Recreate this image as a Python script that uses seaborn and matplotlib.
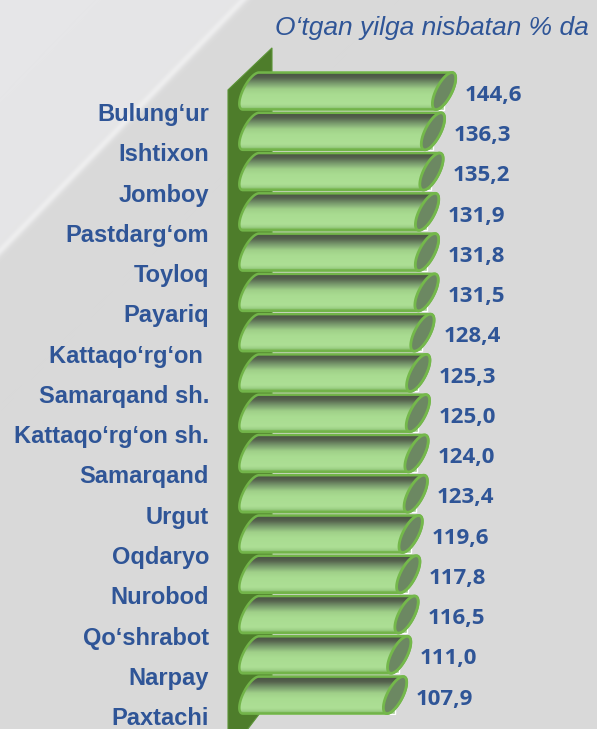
import numpy as np
import pandas as pd
import matplotlib
matplotlib.use("Agg")
import matplotlib.pyplot as plt
import seaborn as sns
from matplotlib.patches import Polygon
from matplotlib.colors import LinearSegmentedColormap, to_rgb
from matplotlib.transforms import ScaledTranslation

# ---- data -------------------------------------------------------------
districts = [
    "Bulung‘ur", "Ishtixon", "Jomboy", "Pastdarg‘om", "Toyloq", "Payariq",
    "Kattaqo‘rg‘on ", "Samarqand sh.", "Kattaqo‘rg‘on sh.", "Samarqand",
    "Urgut", "Oqdaryo", "Nurobod", "Qo‘shrabot", "Narpay", "Paxtachi",
]
growth = [144.6, 136.3, 135.2, 131.9, 131.8, 131.5, 128.4, 125.3,
          125.0, 124.0, 123.4, 119.6, 117.8, 116.5, 111.0, 107.9]
title_text = "O‘tgan yilga nisbatan % da"

# ---- style ------------------------------------------------------------
W, H, DPI = 597, 729, 100
BLUE = "#2f5597"
sns.set_theme(style="white")
plt.rcParams["font.family"] = ["Liberation Sans", "DejaVu Sans"]

fig = plt.figure(figsize=(W / DPI, H / DPI), dpi=DPI)

# ---- background: grey with a lighter upper-left corner ----------------
bg = fig.add_axes([0, 0, 1, 1], zorder=0)
bg.set_axis_off()
yy, xx = np.mgrid[0:H, 0:W]
dist = (xx * 250 + yy * 242 - 242 * 250) / np.hypot(250, 242)
base = np.array(to_rgb("#d9d9d9"))
light = np.array(to_rgb("#e6e6e8"))
mix = 1 / (1 + np.exp(dist / 3.0))
img = base * (1 - mix[..., None]) + light * mix[..., None]
glow = 0.45 * np.exp(-(dist / 3.5) ** 2)
img = img + (1 - img) * glow[..., None]
bg.imshow(img, extent=(0, W, H, 0), aspect="auto", interpolation="bilinear")
bg.set_xlim(0, W)
bg.set_ylim(H, 0)

# ---- main axes: seaborn horizontal bars give the scale -----------------
ax = fig.add_axes([251 / W, 13.8 / H, 346 / W, 644.3 / H], zorder=1)
ax.patch.set_alpha(0)
df = pd.DataFrame({"district": districts, "growth": growth})
sns.barplot(data=df, x="growth", y="district", orient="h", width=0.92,
            color="#a6d78e", ax=ax)
ax.set_xlim(0, 346 / 1.335)
ax.set_ylim(len(districts) - 0.5, -0.5)
for sp in ax.spines.values():
    sp.set_visible(False)
ax.set_xticks([])
ax.set_xlabel("")
ax.set_ylabel("")
ax.tick_params(axis="y", length=0, pad=30.2)
label_shift = ScaledTranslation(0, -30 / DPI, fig.dpi_scale_trans)
for lab in ax.get_yticklabels():
    lab.set_fontweight("bold")
    lab.set_fontsize(17)
    lab.set_color(BLUE)
    lab.set_verticalalignment("baseline")
    lab.set_transform(lab.get_transform() + label_shift)

container = ax.containers[0]
value_texts = [f"{v:.1f}".replace(".", ",") for v in growth]
anns = ax.bar_label(container, labels=value_texts, padding=15,
                    fontsize=16, fontweight="bold", color=BLUE,
                    family=["Open Sans", "DejaVu Sans"])
for a in anns:
    a.xyann = (15, -3)

# ---- overlay in pixel space for the 3-D cylinders and back wall --------
ov = fig.add_axes([0, 0, 1, 1], zorder=2)
ov.set_axis_off()
ov.patch.set_alpha(0)
ov.set_xlim(0, W)
ov.set_ylim(0, H)
ov.set_autoscale_on(False)

to_px = ax.transData.transform
x0_px = to_px((0, 0))[0]
ax_bb = ax.get_position()
top_px = ax_bb.y1 * H
bot_px = ax_bb.y0 * H

# back wall with slanted top and floor edge
wall = Polygon([(x0_px - 23, top_px - 19), (x0_px + 21, top_px + 23),
                (x0_px + 21, bot_px + 18), (x0_px - 23, -26)],
               closed=True, fc="#4e7d2b", ec="#5b9437", lw=0.8, zorder=1)
ov.add_patch(wall)

grad_cmap = LinearSegmentedColormap.from_list("cyl", [
    (0.00, "#6aa84f"), (0.05, "#4a5444"), (0.15, "#56634e"),
    (0.28, "#75956a"), (0.45, "#a0d089"), (0.60, "#a9dc91"),
    (0.85, "#addf95"), (0.93, "#9ccf85"), (1.00, "#70ad47")])
grad = grad_cmap(np.linspace(0, 1, 120))[:, None, :3]

RX = 8.5
SK = 8.0
for patch in container.patches:
    x_l = to_px((patch.get_x(), 0))[0]
    x_r = to_px((patch.get_x() + patch.get_width(), 0))[0]
    y_a = to_px((0, patch.get_y()))[1]
    y_b = to_px((0, patch.get_y() + patch.get_height()))[1]
    yc = (y_a + y_b) / 2
    ry = abs(y_a - y_b) / 2
    sk = SK * ry / 18.5

    t1 = np.linspace(np.pi / 2, 3 * np.pi / 2, 80)
    left = np.c_[x_l + RX * np.cos(t1) + sk * np.sin(t1), yc + ry * np.sin(t1)]
    t2 = np.linspace(-np.pi / 2, np.pi / 2, 80)
    right = np.c_[x_r + RX * np.cos(t2) + sk * np.sin(t2), yc + ry * np.sin(t2)]
    body = Polygon(np.vstack([left, right]), closed=True, fc="none",
                   ec="#72b449", lw=1.8, zorder=3)
    ov.add_patch(body)
    im = ov.imshow(grad, extent=(x_l - RX - sk - 2, x_r + RX + sk + 2,
                                 yc - ry, yc + ry),
                   aspect="auto", interpolation="bilinear", zorder=2)
    im.set_clip_path(body)

    t3 = np.linspace(0, 2 * np.pi, 120)
    end = np.c_[x_r + RX * np.cos(t3) + sk * np.sin(t3), yc + ry * np.sin(t3)]
    ov.add_patch(Polygon(end, closed=True, fc="#6c8862", ec="#74b84b",
                         lw=2.0, zorder=4))

ov.set_xlim(0, W)
ov.set_ylim(0, H)

# ---- title --------------------------------------------------------------
fig.text(275 / W, 1 - 35 / H, title_text, ha="left", va="baseline",
         style="italic", fontsize=19, color=BLUE)

fig.savefig("out.png", dpi=DPI)
